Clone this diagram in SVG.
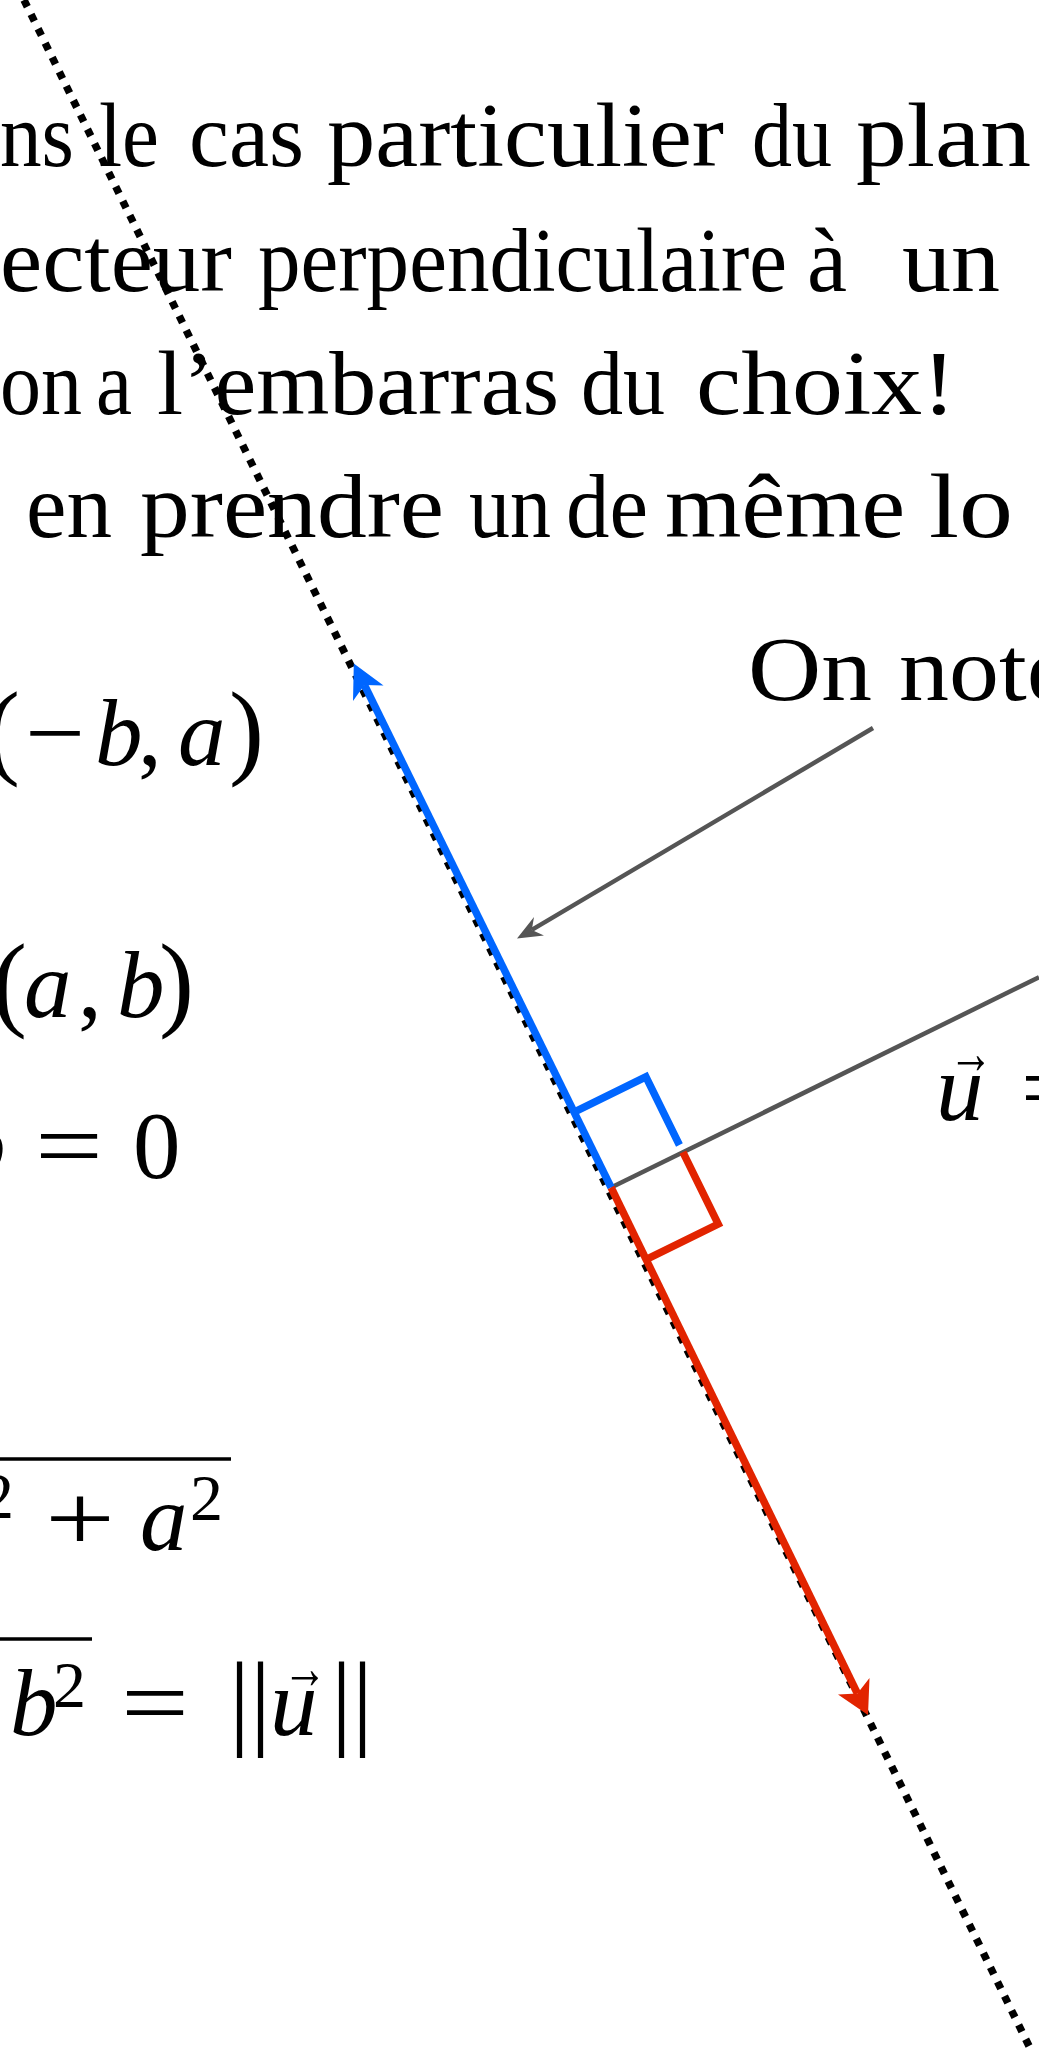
<svg xmlns="http://www.w3.org/2000/svg" width="1039" height="2048" viewBox="0 0 1039 2048">
<style>
.t{font-family:"Liberation Serif","DejaVu Serif",serif;font-size:90px;fill:#000}
.m{font-family:"Liberation Serif","DejaVu Serif",serif;font-size:95px;fill:#000}
.mi{font-style:italic}
.p{font-size:105px}
.sup{font-size:66px}
.dot{fill:none;stroke:#000;stroke-width:7.5;stroke-dasharray:7.5 8.5}
.blue{fill:none;stroke:#0066FF;stroke-width:7.5;stroke-linejoin:miter}
.red{fill:none;stroke:#E22400;stroke-width:7.5;stroke-linejoin:miter}
.gray{fill:none;stroke:#555;stroke-width:4.5}
.bar{stroke:#000;stroke-width:3.5}
</style>
<rect width="1039" height="2048" fill="#fff"/>
<g id="text-lines">
<text class="t" x="0" y="166" textLength="74" lengthAdjust="spacingAndGlyphs">ns</text>
<text class="t" x="99" y="166" textLength="60" lengthAdjust="spacingAndGlyphs">le</text>
<text class="t" x="189" y="166" textLength="115" lengthAdjust="spacingAndGlyphs">cas</text>
<text class="t" x="327" y="166" textLength="397" lengthAdjust="spacingAndGlyphs">particulier</text>
<text class="t" x="752" y="166" textLength="80" lengthAdjust="spacingAndGlyphs">du</text>
<text class="t" x="856" y="166" textLength="175" lengthAdjust="spacingAndGlyphs">plan</text>

<text class="t" x="0" y="291" textLength="232" lengthAdjust="spacingAndGlyphs">ecteur</text>
<text class="t" x="258" y="291" textLength="529" lengthAdjust="spacingAndGlyphs">perpendiculaire</text>
<text class="t" x="807" y="291" textLength="40" lengthAdjust="spacingAndGlyphs">à</text>
<text class="t" x="902" y="291" textLength="98" lengthAdjust="spacingAndGlyphs">un</text>

<text class="t" x="0" y="414" textLength="82" lengthAdjust="spacingAndGlyphs">on</text>
<text class="t" x="96" y="414" textLength="36" lengthAdjust="spacingAndGlyphs">a</text>
<text class="t" x="157" y="414" textLength="402" lengthAdjust="spacingAndGlyphs">l’embarras</text>
<text class="t" x="581" y="414" textLength="84" lengthAdjust="spacingAndGlyphs">du</text>
<text class="t" x="696" y="414" textLength="260" lengthAdjust="spacingAndGlyphs">choix!</text>

<text class="t" x="26" y="537" textLength="86" lengthAdjust="spacingAndGlyphs">en</text>
<text class="t" x="140" y="537" textLength="304" lengthAdjust="spacingAndGlyphs">prendre</text>
<text class="t" x="469" y="537" textLength="82" lengthAdjust="spacingAndGlyphs">un</text>
<text class="t" x="566" y="537" textLength="82" lengthAdjust="spacingAndGlyphs">de</text>
<text class="t" x="665" y="537" textLength="240" lengthAdjust="spacingAndGlyphs">même</text>
<text class="t" x="929" y="537" textLength="84" lengthAdjust="spacingAndGlyphs">lo</text>

<text class="t" x="748" y="700" textLength="124" lengthAdjust="spacingAndGlyphs">On</text>
<text class="t" x="899" y="700" textLength="172" lengthAdjust="spacingAndGlyphs">note</text>
</g>
<g id="dotted-line">
<line class="dot" x1="24" y1="0" x2="1030" y2="2048"/>
</g>
<g id="connectors">
<line class="gray" x1="873" y1="728" x2="531.8" y2="929.9"/>
<polygon fill="#555" points="517,938.5 544,935.5 531.8,929.9 534,917"/>
<line class="gray" x1="611.1" y1="1187.5" x2="1039" y2="977.3"/>
</g>
<g id="blue-vector">
<line class="blue" x1="611.1" y1="1187.5" x2="364.4" y2="685"/>
<polygon fill="#0066FF" points="353.8,663.5 383.5,685.5 364.4,685 353,701"/>
<polyline class="blue" points="574.1,1112.1 645.9,1076.8 679.4,1145"/>
</g>
<g id="red-vector">
<line class="red" x1="611.1" y1="1187.5" x2="857.4" y2="1693.5"/>
<polygon fill="#E22400" points="868,1715 869.5,1678 857.4,1693.5 838,1694.5"/>
<polyline class="red" points="646.4,1259.3 718.2,1224 682.9,1152.2"/>
</g>
<g id="eq1">
<text class="m p" x="-15" y="765">(</text>
<text class="m" x="25" y="765" textLength="60" lengthAdjust="spacingAndGlyphs">−</text>
<text class="m" y="765"><tspan class="mi" x="95">b</tspan><tspan x="138">,</tspan><tspan class="mi" x="178">a</tspan><tspan class="p" x="229">)</tspan></text>
</g>
<g id="eq2">
<text class="m" y="1017"><tspan class="p" x="-8">(</tspan><tspan class="mi" x="24">a</tspan><tspan x="78">,</tspan><tspan class="mi" x="117">b</tspan><tspan class="p" x="159">)</tspan></text>
</g>
<g id="eq3">
<text class="m mi" x="-42" y="1178">b</text>
<text class="m" x="35" y="1178" textLength="68" lengthAdjust="spacingAndGlyphs">=</text>
<text class="m" x="133" y="1178">0</text>
</g>
<g id="eq4">
<line class="bar" x1="0" y1="1459" x2="231" y2="1459"/>
<text class="m sup" x="-19" y="1518">2</text>
<text class="m" x="45" y="1550" textLength="70" lengthAdjust="spacingAndGlyphs">+</text>
<text class="m mi" x="140" y="1550">a</text>
<text class="m sup" x="190" y="1520">2</text>
</g>
<g id="eq5">
<line class="bar" x1="0" y1="1639" x2="92" y2="1639"/>
<text class="m mi" x="10" y="1735">b</text>
<text class="m sup" x="53" y="1707">2</text>
<text class="m" x="121" y="1735" textLength="68" lengthAdjust="spacingAndGlyphs">=</text>
<text class="m p" x="229" y="1735">||</text>
<text class="m mi" x="270" y="1735">u</text>
<text class="m" x="283" y="1688" style="font-size:60px" textLength="44" lengthAdjust="spacingAndGlyphs">→</text>
<text class="m p" x="331" y="1735">||</text>
</g>
<g id="u-label">
<text class="m mi" x="936" y="1120">u</text>
<text class="m" x="949" y="1073" style="font-size:60px" textLength="44" lengthAdjust="spacingAndGlyphs">→</text>
<text class="m" x="1020" y="1120" textLength="68" lengthAdjust="spacingAndGlyphs">=</text>
</g>
</svg>
